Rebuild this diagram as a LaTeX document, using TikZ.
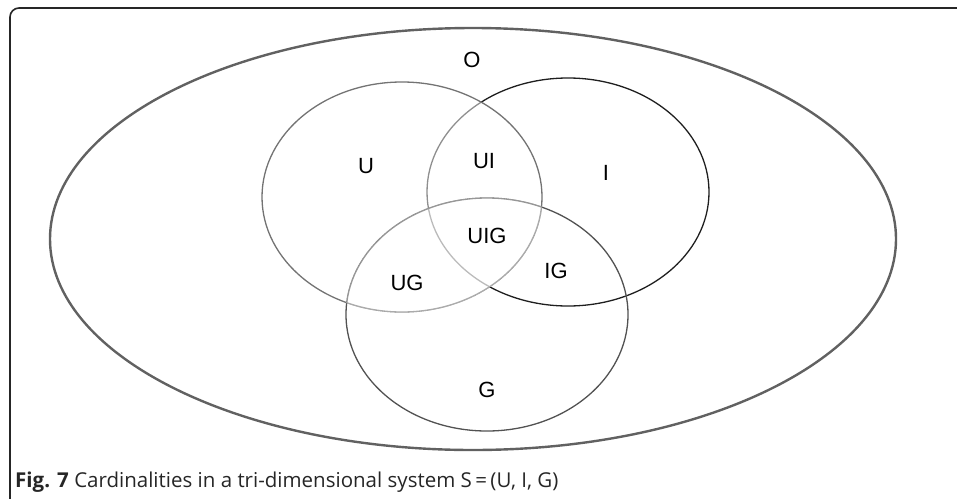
\documentclass[tikz,border=0pt]{standalone}
\usepackage{fontspec}
\setmainfont{Liberation Sans}
\newfontfamily\capfont{Open Sans}
\begin{document}
\begin{tikzpicture}[x=1pt,y=-1pt,
  lbl/.style={font=\fontsize{22}{26}\selectfont, text=black, inner sep=0pt},
  venn/.style={line width=1.3pt}]
\useasboundingbox (0,0) rectangle (957,498);
% frame
\begin{scope}
\clip (0,0) rectangle (957,498);
\draw[line width=1.6pt, color=black!85, rounded corners=9pt] (10,8) rectangle (975,520);
\end{scope}
% outer set O
\draw[line width=2.4pt, color=black!62] (473,239) ellipse [x radius=423, y radius=211];
% I set
\draw[venn, color=black!88] (568,192) ellipse [x radius=141, y radius=114];
% lighten inside U
\fill[white, opacity=0.5] (402,197) ellipse [x radius=140, y radius=115];
% U set
\draw[venn, color=black!55] (402,197) ellipse [x radius=140, y radius=115];
% G set
\draw[venn, color=black!68] (487,314.5) ellipse [x radius=141, y radius=116.5];
% lighten U cap G
\begin{scope}
\clip (402,197) ellipse [x radius=140.6, y radius=115.6];
\fill[white, opacity=0.4] (487,314.5) ellipse [x radius=141.6, y radius=117.1];
\end{scope}
% labels
\node[lbl] (O) at (472,60) {O};
\node[lbl] (U) at (366,166) {U};
\node[lbl] (UI) at (484,161) {UI};
\node[lbl] (I) at (606,173) {I};
\node[lbl] (UIG) at (487,236) {UIG};
\node[lbl] (UG) at (407,283) {UG};
\node[lbl] (IG) at (556,271) {IG};
\node[lbl] (G) at (487,390) {G};
\node[anchor=base west, inner sep=0pt, font=\capfont\fontsize{20.5}{24}\selectfont, text=black!85] (cap) at (15,487)
  {\textbf{Fig. 7} Cardinalities in a tri-dimensional system S\,=\,(U, I, G)};
\end{tikzpicture}
\end{document}
